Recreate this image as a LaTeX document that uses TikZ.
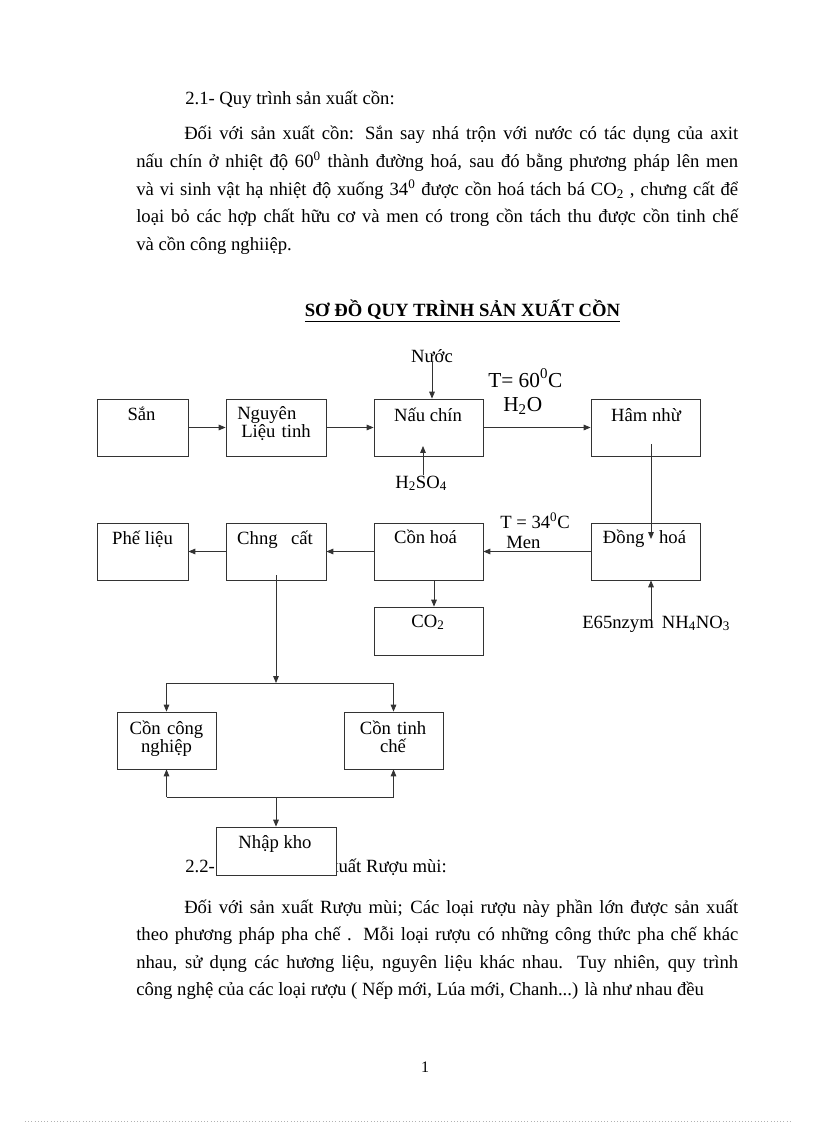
\documentclass[tikz,border=0pt]{standalone}
\usepackage{fontspec}
\setmainfont{Liberation Serif}
\usetikzlibrary{calc,arrows.meta}

\tikzset{
  ln/.style={line width=0.6pt, draw=black!80},
  arr/.style={ln, -{Triangle[length=5.2pt,width=4.2pt]}},
  box/.style={ln, inner sep=0, minimum height=42.75pt},
  lowbox/.style={ln, inner sep=0, minimum height=36pt},
  lbl/.style={inner sep=0, anchor=base, font=\fontsize{14}{13.5}\selectfont},
  big/.style={lbl, font=\fontsize{16}{18}\selectfont},
  body/.style={inner sep=0, anchor=base west, font=\fontsize{14}{20.7}\selectfont},
  para/.style={body, text width=451.5pt, align=justify}
}

\begin{document}
\begin{tikzpicture}[x=0.75pt, y=-0.75pt]
			%%%%% PAGE %%%%%
			\useasboundingbox (0,0) rectangle (816,1123);
			
			\node[body] (h21) at (185,105) {2.1- Quy trình sản xuất cồn:};
			\node[para] (p1) at (136,140) {\hspace*{36pt}Đối với sản xuất cồn: Sắn say nhá trộn với nước có tác dụng của axit\linebreak
				nấu chín ở nhiệt độ 60\textsuperscript{0} thành đường hoá, sau đó bằng phương pháp lên men\linebreak
				và vi sinh vật hạ nhiệt độ xuống 34\textsuperscript{0} được cồn hoá tách bá CO\textsubscript{2} , chưng cất để\linebreak
				loại bỏ các hợp chất hữu cơ và men có trong cồn tách thu được cồn tinh chế\linebreak
				và cồn công nghiiệp.};
			
			\node[inner sep=0, anchor=base, font=\bfseries\fontsize{14}{16}\selectfont] (title) at (462.5,316) {\underline{SƠ ĐỒ QUY TRÌNH SẢN XUẤT CỒN}};
			
			%%%%% BOXES %%%%%
			\node[box, minimum width=68.25pt] (san) at (142.5,427.5) {};
			\node[box, minimum width=75pt] (nguyen) at (276,427.5) {};
			\node[box, minimum width=81.75pt] (nau) at (428.5,427.5) {};
			\node[box, minimum width=81.75pt] (ham) at (645.5,427.5) {};
			
			\node[box, minimum width=68.25pt] (phe) at (142.5,551.5) {};
			\node[box, minimum width=75pt] (chung) at (276,551.5) {};
			\node[box, minimum width=81.75pt] (conhoa) at (428.5,551.5) {};
			\node[box, minimum width=81.75pt] (dong) at (645.5,551.5) {};
			\node[lowbox, minimum width=81.75pt] (co2) at (428.5,631) {};
			
			\node[box, minimum width=74.25pt] (cong) at (166.5,740.5) {};
			\node[box, minimum width=74.25pt] (tinh) at (393.5,740.5) {};
			
			\node[lbl] (san-t) at (141.5,420) {Sắn};
			\node[lbl, anchor=base west, align=left, text width=70pt] (nguyen-t) at (237,419) {Nguyên\\\hspace*{3pt}Liệu tinh};
			\node[lbl] (nau-t) at (428,421) {Nấu chín};
			\node[lbl] (ham-t) at (646,421) {Hâm nhừ};
			\node[lbl] (phe-t) at (142.5,544) {Phế liệu};
			\node[lbl] (chung-t) at (275,544) {Chng\hspace{10pt}cất};
			\node[lbl] (conhoa-t) at (425.5,543) {Cồn hoá};
			\node[lbl] (dong-t) at (644.5,543) {Đồng\hspace{11pt}hoá};
			\node[lbl] (co2-t) at (428,627) {CO\textsubscript{2}};
			\node[lbl, align=center, text width=70pt] (cong-t) at (166.5,734) {Cồn công\\nghiệp};
			\node[lbl, align=center, text width=70pt] (tinh-t) at (393,734) {Cồn tinh\\chế};
			
			\node[lbl] (nuoc) at (432,362) {Nước};
			\node[big, anchor=base west] (t60) at (488,387) {T= 60\textsuperscript{0}C};
			\node[big, anchor=base west] (h2o) at (503,411) {H\textsubscript{2}O};
			\node[lbl, anchor=base west] (h2so4) at (395,488) {H\textsubscript{2}SO\textsubscript{4}};
			\node[lbl, anchor=base west] (t34) at (500,528) {T = 34\textsuperscript{0}C};
			\node[lbl, anchor=base west] (men) at (506,548) {Men};
			\node[lbl, anchor=base west] (enzym) at (582,628) {E65nzym\hspace{6pt}NH\textsubscript{4}NO\textsubscript{3}};
			
			%%%%% ARROWS %%%%%
			\coordinate (nau-in) at (423,446);
			\coordinate (ham-out) at (651,444);
			\coordinate (dong-in) at (651,539);
			\coordinate (dong-feed) at (651,620);
			\coordinate (chung-out) at (276,575);
			\coordinate (split) at (276,683);
			\coordinate (join) at (276,797);
			
			\draw[arr] (san) -- (nguyen);
			\draw[arr] (nguyen) -- (nau);
			\draw[arr] (nau) -- (ham);
			\draw[arr] (nuoc.south) -- (nuoc.south |- nau.north);
			\draw[arr] (h2so4.north -| nau-in) -- (nau-in);
			\draw[arr] (ham-out) -- (dong-in);
			\draw[arr] (dong) -- (conhoa);
			\draw[arr] (conhoa) -- (chung);
			\draw[arr] (chung) -- (phe);
			\draw[arr] ($(conhoa.south)+(5.5,0)$) -- ($(co2.north)+(5.5,0)$);
			\draw[arr] (dong-feed) -- (dong-feed |- dong.south);
			
			\draw[arr] (chung-out) -- (split);
			\draw[ln] (split -| cong) -- (split -| tinh);
			\draw[arr] (split -| cong) -- (cong);
			\draw[arr] (split -| tinh) -- (tinh);
			\draw[ln] (join -| cong) -- (join -| tinh);
			\draw[arr] (join -| cong) -- (cong);
			\draw[arr] (join -| tinh) -- (tinh);
			
			%%%%% TEXT BELOW %%%%%
			\node[body] (h22) at (185,872) {2.2-};
			\node[body] (h22b) at (329,872) {xuất Rượu mùi:};
			
			\node[lowbox, minimum width=90pt, fill=white] (nhap) at (276,851) {};
			\node[lbl] (nhap-t) at (275,848) {Nhập kho};
			\draw[arr] (join) -- (nhap);
			
			\node[para] (p2) at (136,913) {\hspace*{36pt}Đối với sản xuất Rượu mùi; Các loại rượu này phần lớn được sản xuất\linebreak
				theo phương pháp pha chế . Mỗi loại rượu có những công thức pha chế khác\linebreak
				nhau, sử dụng các hương liệu, nguyên liệu khác nhau. Tuy nhiên, quy trình\linebreak
				công nghệ của các loại rượu ( Nếp mới, Lúa mới, Chanh...) là như nhau đều};
			
			\node[inner sep=0, anchor=base, font=\fontsize{12}{14}\selectfont] (pnum) at (425,1072) {1};
			\draw[black!30, dotted, line width=0.4pt] (25,1121.5) -- (792,1121.5);
			
			%%%%% END %%%%%
\end{tikzpicture}
\end{document}
